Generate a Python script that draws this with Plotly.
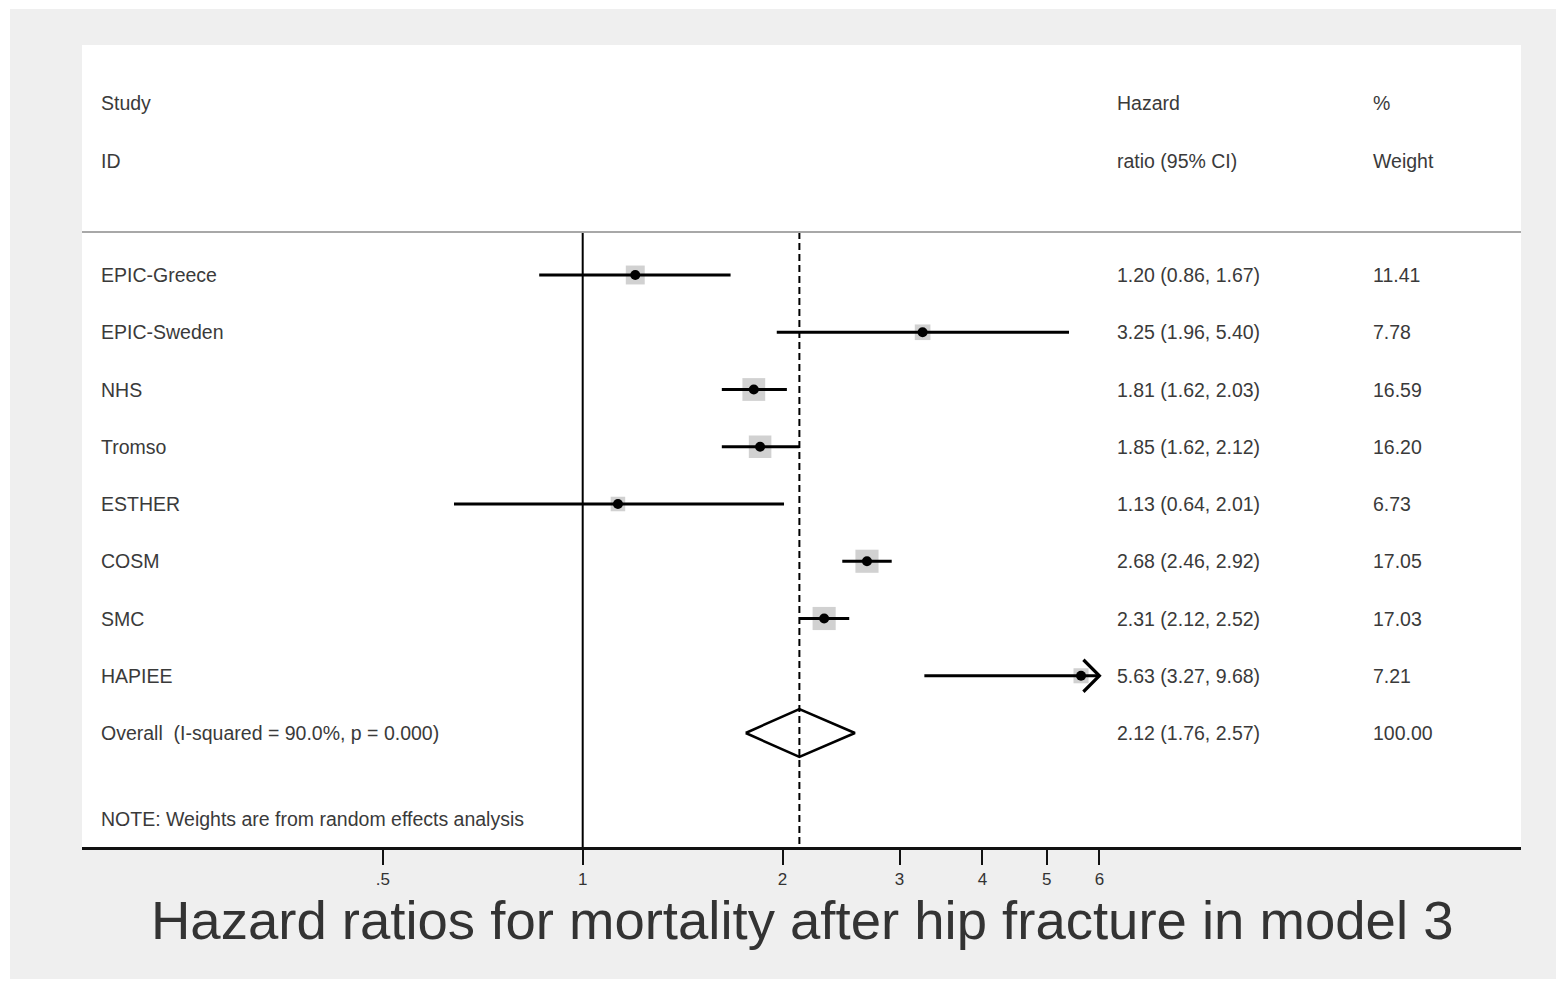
import math
import plotly.graph_objects as go

# ---------------- data ----------------
studies = ["EPIC-Greece", "EPIC-Sweden", "NHS", "Tromso", "ESTHER", "COSM", "SMC", "HAPIEE"]
hr = [1.20, 3.25, 1.81, 1.85, 1.13, 2.68, 2.31, 5.63]
ci_low = [0.86, 1.96, 1.62, 1.62, 0.64, 2.46, 2.12, 3.27]
ci_high = [1.67, 5.40, 2.03, 2.12, 2.01, 2.92, 2.52, 9.68]
weights = [11.41, 7.78, 16.59, 16.20, 6.73, 17.05, 17.03, 7.21]

overall_label = "Overall\u00a0\u00a0(I-squared = 90.0%, p = 0.000)"
overall_hr = 2.12
overall_low = 1.76
overall_high = 2.57
overall_weight = 100.00

tick_vals = [0.5, 1, 2, 3, 4, 5, 6]
tick_text = [".5", "1", "2", "3", "4", "5", "6"]

header_study = ["Study", "ID"]
header_hr = ["Hazard", "ratio (95% CI)"]
header_w = ["%", "Weight"]
note_text = "NOTE: Weights are from random effects analysis"
title_text = "Hazard ratios for mortality after hip fracture in model 3"

# ---------------- layout constants (page pixels) ----------------
OFF = 8                      # default body margin of the html page
PAGE_W, PAGE_H = 1564, 981
W, H = PAGE_W - OFF, PAGE_H - OFF
PANEL_L, PANEL_R, PANEL_T, PANEL_B = 82, 1521, 45, 847
ML = PANEL_L - OFF
MT = PANEL_T - OFF
MR = W - (PANEL_R - OFF)
MB = H - (PANEL_B - OFF)
plot_w = W - ML - MR
plot_h = H - MT - MB
row_px = 57.25
first_row_px = 275
y_top = (PANEL_T - first_row_px) / row_px
y_bot = (PANEL_B - first_row_px) / row_px
px_per_decade = 664.0
x_one_px = 582.7
x_lo_log = (PANEL_L - x_one_px) / px_per_decade
x_hi_log = (PANEL_R - x_one_px) / px_per_decade


def px_to_paper_x(px):
    return (px - PANEL_L) / plot_w


def px_to_paper_y(py):
    return (PANEL_B - py) / plot_h


FONT = "Liberation Sans, Arial, sans-serif"
TXT = "#3a3a3a"
FS = 19.5

n = len(studies)
rows = list(range(n))
overall_row = n
note_row = n + 1.5
sep_row = -0.75

x_max = max(tick_vals)

fig = go.Figure()

# vertical reference lines
fig.add_trace(go.Scatter(x=[1, 1], y=[sep_row, y_bot], mode="lines",
                         line=dict(color="black", width=2), hoverinfo="skip", showlegend=False))
fig.add_trace(go.Scatter(x=[overall_hr, overall_hr], y=[sep_row, y_bot], mode="lines",
                         line=dict(color="black", width=2, dash="7px,4px"), hoverinfo="skip", showlegend=False))

# weight boxes
fig.add_trace(go.Scatter(x=hr, y=rows, mode="markers",
                         marker=dict(symbol="square", size=[5.6 * math.sqrt(w) for w in weights],
                                     color="#bdbdbd", line=dict(width=0)),
                         hoverinfo="skip", showlegend=False))

# CI lines
cx, cy = [], []
for i in range(n):
    cx += [ci_low[i], min(ci_high[i], x_max), None]
    cy += [i, i, None]
fig.add_trace(go.Scatter(x=cx, y=cy, mode="lines", line=dict(color="black", width=3.2),
                         hoverinfo="skip", showlegend=False))

# arrows for truncated CIs
ax, ay = [], []
arm_dx = 10 ** (16 / px_per_decade)
arm_dy = 16 / row_px
for i in range(n):
    if ci_high[i] > x_max:
        ax += [x_max / arm_dx, x_max, x_max / arm_dx, None]
        ay += [i - arm_dy, i, i + arm_dy, None]
fig.add_trace(go.Scatter(x=ax, y=ay, mode="lines", line=dict(color="black", width=3.2),
                         hoverinfo="skip", showlegend=False))

# point estimates
fig.add_trace(go.Scatter(x=hr, y=rows, mode="markers",
                         marker=dict(symbol="circle", size=10, color="black"),
                         hoverinfo="skip", showlegend=False))

# overall diamond
dh = 24 / row_px
fig.add_trace(go.Scatter(x=[overall_low, overall_hr, overall_high, overall_hr, overall_low],
                         y=[overall_row, overall_row - dh, overall_row, overall_row + dh, overall_row],
                         mode="lines", line=dict(color="black", width=2.5),
                         hoverinfo="skip", showlegend=False))

annotations = []


def add_text(px_x, row, text, size=FS, color=TXT):
    annotations.append(dict(x=px_to_paper_x(px_x), xref="paper", y=row, yref="y",
                            text=text, showarrow=False, xanchor="left", yanchor="middle",
                            font=dict(family=FONT, size=size, color=color)))


COL1, COL2, COL3 = 99, 1115, 1371

# headers
for k in range(2):
    add_text(COL1, -3 + k, header_study[k])
    add_text(COL2, -3 + k, header_hr[k])
    add_text(COL3, -3 + k, header_w[k])

for i in range(n):
    add_text(COL1, i, studies[i])
    add_text(COL2, i, f"{hr[i]:.2f} ({ci_low[i]:.2f}, {ci_high[i]:.2f})")
    add_text(COL3, i, f"{weights[i]:.2f}")

add_text(COL1, overall_row, overall_label)
add_text(COL2, overall_row, f"{overall_hr:.2f} ({overall_low:.2f}, {overall_high:.2f})")
add_text(COL3, overall_row, f"{overall_weight:.2f}")
add_text(COL1, note_row, note_text)

# title
annotations.append(dict(x=px_to_paper_x(802), xref="paper", y=px_to_paper_y(921), yref="paper",
                        text=title_text, showarrow=False, xanchor="center", yanchor="middle",
                        font=dict(family=FONT, size=54.5, color="#333333")))

shapes = [
    # header separator
    dict(type="line", xref="paper", yref="y", x0=0, x1=1, y0=sep_row, y1=sep_row,
         line=dict(color="#a8a8a8", width=2), layer="above"),
    # white outer border (left, top, bottom)
    dict(type="rect", xref="paper", yref="paper", x0=px_to_paper_x(-20), x1=px_to_paper_x(10),
         y0=px_to_paper_y(PAGE_H + 20), y1=px_to_paper_y(-20), fillcolor="white", line=dict(width=0), layer="below"),
    dict(type="rect", xref="paper", yref="paper", x0=px_to_paper_x(-20), x1=px_to_paper_x(PAGE_W + 20),
         y0=px_to_paper_y(9), y1=px_to_paper_y(-20), fillcolor="white", line=dict(width=0), layer="below"),
    dict(type="rect", xref="paper", yref="paper", x0=px_to_paper_x(-20), x1=px_to_paper_x(PAGE_W + 20),
         y0=px_to_paper_y(PAGE_H + 20), y1=px_to_paper_y(979), fillcolor="white", line=dict(width=0), layer="below"),
]

fig.update_layout(
    width=W, height=H,
    margin=dict(l=ML, r=MR, t=MT, b=MB, pad=0),
    paper_bgcolor="#efefef",
    plot_bgcolor="white",
    showlegend=False,
    annotations=annotations,
    shapes=shapes,
    xaxis=dict(type="log", range=[x_lo_log, x_hi_log], tickvals=tick_vals, ticktext=tick_text,
               showgrid=False, zeroline=False, showline=True, linecolor="#111111", linewidth=3,
               ticks="outside", ticklen=15, tickwidth=2, tickcolor="#111111",
               tickfont=dict(family=FONT, size=17, color="#333333"), fixedrange=True),
    yaxis=dict(range=[y_bot, y_top], showgrid=False, zeroline=False, showline=False,
               showticklabels=False, ticks="", fixedrange=True),
)

fig.write_html("out.html")
